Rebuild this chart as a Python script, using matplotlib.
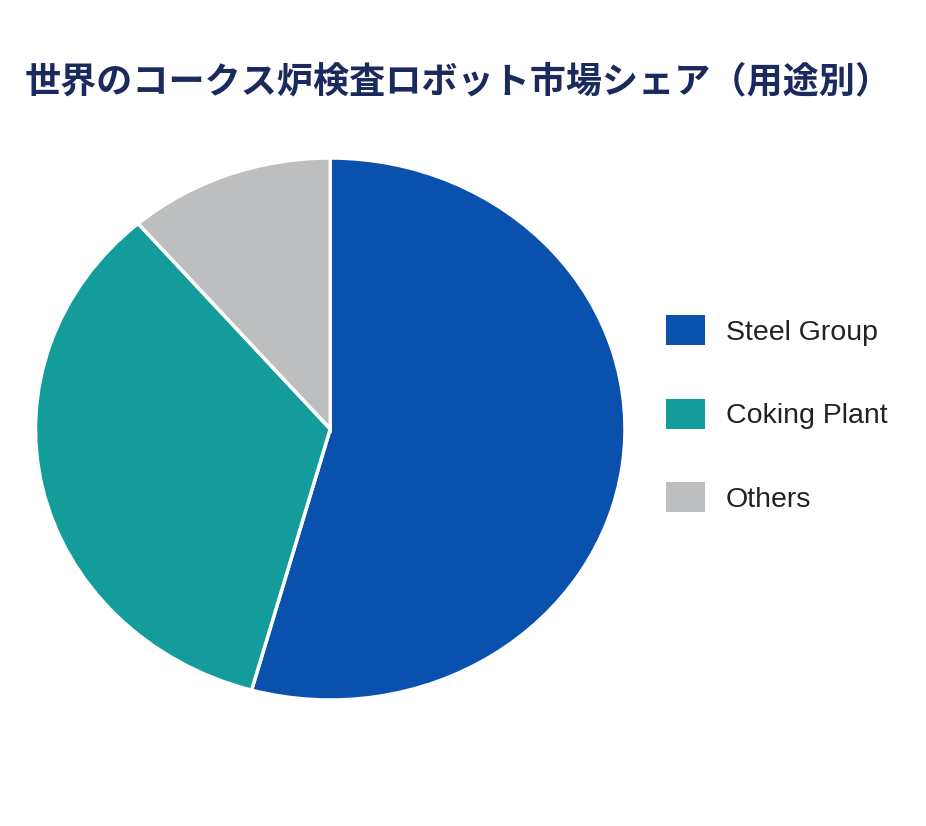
import matplotlib
matplotlib.use("Agg")
import matplotlib.pyplot as plt
from matplotlib.patches import Patch

plt.rcParams['font.family'] = ['Noto Sans CJK JP', 'DejaVu Sans']

title = "世界のコークス炉検査ロボット市場シェア（用途別）"
categories = ["Steel Group", "Coking Plant", "Others"]
shares = [54.3, 34.4, 11.3]
colors = ["#0A51AE", "#139C9A", "#BDBEC0"]

fig = plt.figure(figsize=(9.26, 8.26), dpi=100)
fig.patch.set_facecolor("white")

ax = fig.add_axes([35.5 / 926, 1 - 700 / 826, 589.5 / 926, 542 / 826])
wedges, _ = ax.pie(shares, colors=colors, startangle=90, counterclock=False,
                   radius=1.0, wedgeprops=dict(edgecolor="white", linewidth=2.5))
ax.set_xlim(-1, 1)
ax.set_ylim(-1, 1)
ax.set_aspect("auto")
ax.axis("off")

fig.text(0.5 - 5 / 926, 1 - 82 / 826, title, ha="center", va="center", fontsize=26,
         fontweight="bold", color="#1B2A5E")

handles = [Patch(facecolor=c, edgecolor="none") for c in colors]
leg = fig.legend(handles, categories, loc="center left",
                 bbox_to_anchor=(666 / 926, 1 - 414 / 826), frameon=False,
                 fontsize=20.5, handlelength=1.37, handleheight=1.23,
                 labelspacing=1.86, handletextpad=0.74, borderpad=0,
                 borderaxespad=0)
for t in leg.get_texts():
    t.set_color("#222222")
    t.set_family(["Liberation Sans", "DejaVu Sans"])

fig.savefig("out.png", dpi=100, facecolor="white")
